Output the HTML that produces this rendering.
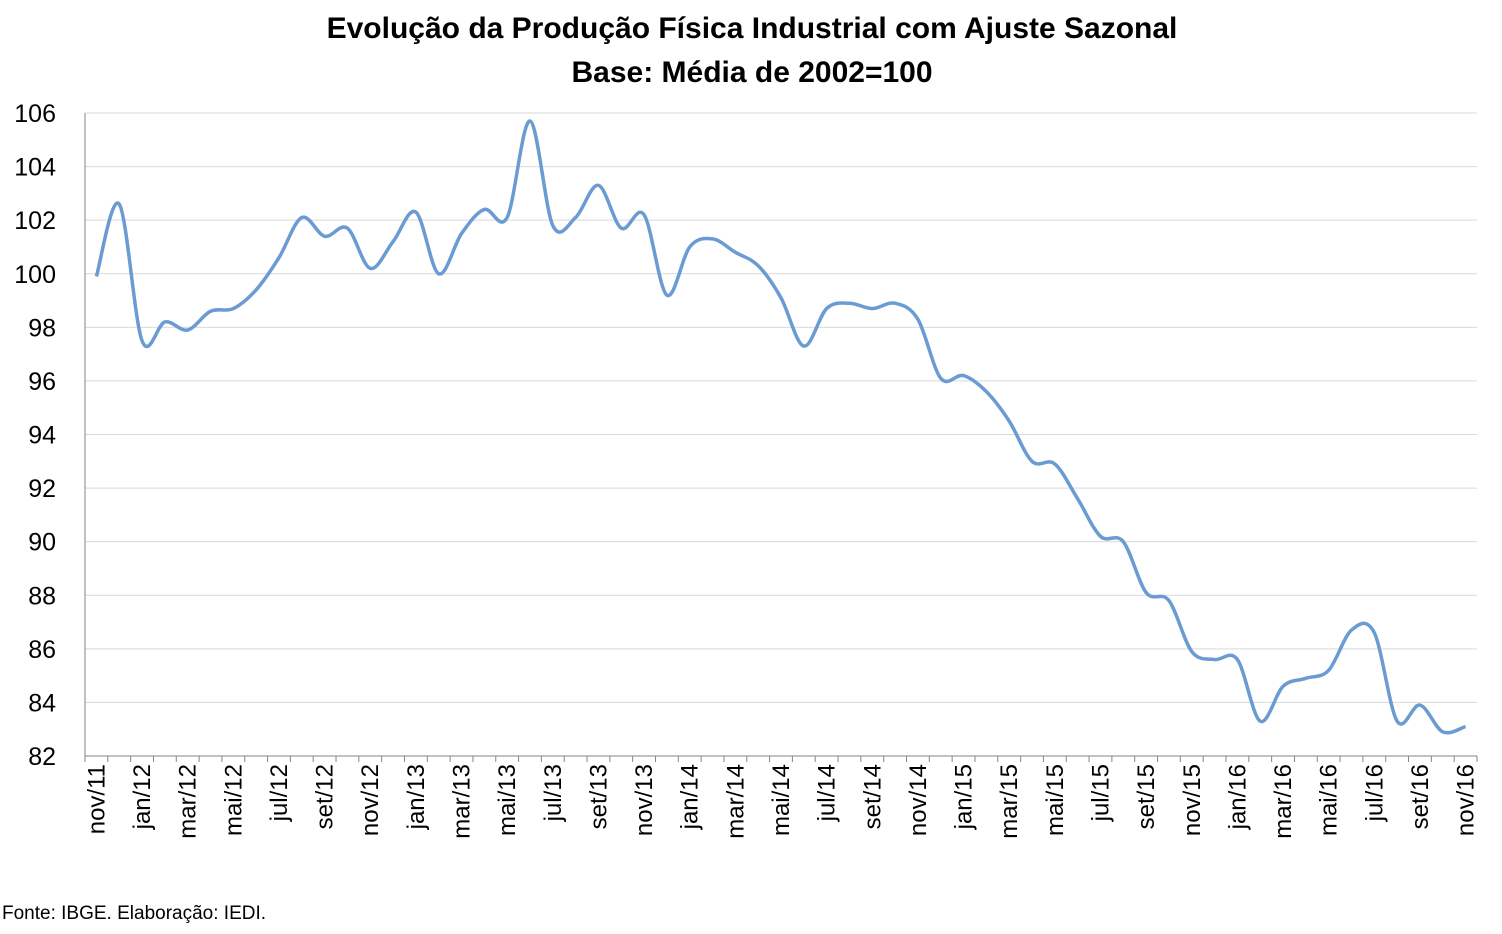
<!DOCTYPE html>
<html><head><meta charset="utf-8"><style>
body{margin:0;background:#fff;font-family:"Liberation Sans",sans-serif}
svg text{font-family:"Liberation Sans",sans-serif}
</style></head><body>
<svg width="1502" height="929">
<text x="752" y="38" text-anchor="middle" font-size="30" font-weight="bold">Evolução da Produção Física Industrial com Ajuste Sazonal</text>
<text x="752" y="82" text-anchor="middle" font-size="30" font-weight="bold">Base: Média de 2002=100</text>
<g id="grid"></g>
<g id="yl"></g>
<g id="xl"></g>
<path id="ln" fill="none" stroke="#6a9bd2" stroke-width="3.5"/>
<text x="2" y="919" font-size="19">Fonte: IBGE. Elaboração: IEDI.</text>
</svg>
<script>
const startMonth = 10, startYear = 11;
const values = [99.9,102.6,97.5,98.2,97.9,98.6,98.7,99.4,100.6,102.1,101.4,101.7,100.2,101.2,102.3,100.0,101.5,102.4,102.1,105.7,101.8,102.1,103.3,101.7,102.2,99.2,101.0,101.3,100.8,100.3,99.1,97.3,98.7,98.9,98.7,98.9,98.3,96.1,96.2,95.6,94.5,93.0,92.9,91.6,90.2,90.0,88.1,87.8,85.9,85.6,85.6,83.3,84.6,84.9,85.2,86.7,86.6,83.3,83.9,82.9,83.1];
const yTicks = [82,84,86,88,90,92,94,96,98,100,102,104,106];
const monthNames = ["jan","fev","mar","abr","mai","jun","jul","ago","set","out","nov","dez"];
const L=85,R=1477,T=113,B=756,yMin=82,yMax=106;
const ns="http://www.w3.org/2000/svg";
const step=(R-L)/values.length;
const xs=i=>L+step*(i+0.5);
const ys=v=>B-(v-yMin)/(yMax-yMin)*(B-T);
const grid=document.getElementById('grid'),yl=document.getElementById('yl'),xl=document.getElementById('xl');
yTicks.forEach(t=>{
  const l=document.createElementNS(ns,'line');
  
  
  l.setAttribute('x1',L);l.setAttribute('x2',R);l.setAttribute('y1',ys(t));l.setAttribute('y2',ys(t));
  l.setAttribute('stroke',t===yMin?'#868686':'#d9d9d9');l.setAttribute('stroke-width',1);
  grid.appendChild(l);
  const tx=document.createElementNS(ns,'text');
  
  
  tx.setAttribute('x',56);tx.setAttribute('y',ys(t)+9);tx.setAttribute('font-size',25);tx.setAttribute('text-anchor','end');
  tx.textContent=t;yl.appendChild(tx);
});
const ax=document.createElementNS(ns,'line');


ax.setAttribute('x1',L);ax.setAttribute('x2',L);ax.setAttribute('y1',T);ax.setAttribute('y2',B);ax.setAttribute('stroke','#868686');
grid.appendChild(ax);
for(let i=0;i<=values.length;i++){
  const tk=document.createElementNS(ns,'line');
  
  
  const x=L+step*i;
  tk.setAttribute('x1',x);tk.setAttribute('x2',x);tk.setAttribute('y1',B);tk.setAttribute('y2',B+6);tk.setAttribute('stroke','#868686');
  grid.appendChild(tk);
}
values.forEach((v,i)=>{
  if(i%2) return;
  const m=(startMonth+i)%12, y=startYear+Math.floor((startMonth+i)/12);
  const tx=document.createElementNS(ns,'text');
  
  
  const x=xs(i)+8,yy=764;
  tx.setAttribute('transform',`translate(${x},${yy}) rotate(-90)`);
  tx.setAttribute('text-anchor','end');tx.setAttribute('font-size',24);
  tx.textContent=monthNames[m]+'/'+y;xl.appendChild(tx);
});
const P=values.map((v,i)=>[xs(i),ys(v)]);
let d=`M${P[0][0]},${P[0][1]}`;
for(let i=0;i<P.length-1;i++){
  const p0=P[i-1]||P[i],p1=P[i],p2=P[i+1],p3=P[i+2]||P[i+1],k=1/6;
  d+=` C${p1[0]+(p2[0]-p0[0])*k},${p1[1]+(p2[1]-p0[1])*k} ${p2[0]-(p3[0]-p1[0])*k},${p2[1]-(p3[1]-p1[1])*k} ${p2[0]},${p2[1]}`;
}
document.getElementById('ln').setAttribute('d',d);
</script>
</body></html>
